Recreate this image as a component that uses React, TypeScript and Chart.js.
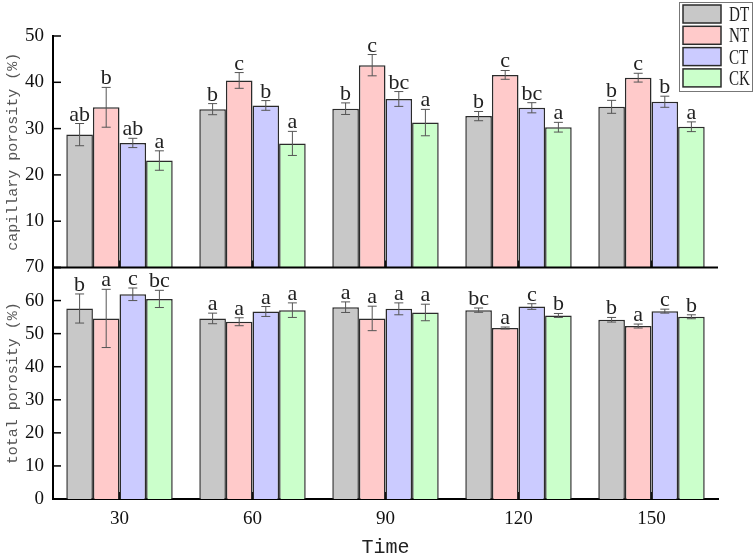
import React, { useEffect, useRef } from 'react';
import { Chart, registerables } from 'chart.js';

Chart.register(...registerables);

// ---- data ----
const categories = ['30', '60', '90', '120', '150'];
const seriesNames = ['DT', 'NT', 'CT', 'CK'];
const seriesColors = ['#c8c8c8', '#ffcaca', '#cbcbff', '#cbffcb'];

// capillary porosity (%)
const capDT = [28.7, 34.2, 34.3, 32.7, 34.7];
const capDTErr = [2.4, 1.2, 1.25, 1.0, 1.4];
const capDTSig = ['ab', 'b', 'b', 'b', 'b'];
const capNT = [34.6, 40.4, 43.7, 41.6, 41.0];
const capNTErr = [4.3, 1.7, 2.3, 0.95, 0.95];
const capNTSig = ['b', 'c', 'c', 'c', 'c'];
const capCT = [26.9, 35.0, 36.4, 34.5, 35.8];
const capCTErr = [1.0, 1.05, 1.6, 1.1, 1.2];
const capCTSig = ['ab', 'b', 'bc', 'bc', 'b'];
const capCK = [23.1, 26.8, 31.3, 30.3, 30.4];
const capCKErr = [2.1, 2.6, 2.85, 1.05, 1.05];
const capCKSig = ['a', 'a', 'a', 'a', 'a'];

// total porosity (%)
const totDT = [57.6, 54.6, 58.0, 57.1, 54.2];
const totDTErr = [4.4, 1.6, 1.6, 0.65, 0.7];
const totDTSig = ['b', 'a', 'a', 'bc', 'b'];
const totNT = [54.6, 53.6, 54.6, 51.7, 52.3];
const totNTErr = [8.8, 1.2, 3.7, 0.3, 0.6];
const totNTSig = ['a', 'a', 'a', 'a', 'a'];
const totCT = [61.9, 56.7, 57.5, 58.2, 56.8];
const totCTErr = [1.9, 1.5, 1.8, 0.85, 0.6];
const totCTSig = ['c', 'a', 'a', 'c', 'c'];
const totCK = [60.5, 57.1, 56.4, 55.5, 55.1];
const totCKErr = [2.6, 2.2, 2.5, 0.6, 0.6];
const totCKSig = ['bc', 'a', 'a', 'b', 'b'];

const capTicksMax = 50;
const totTicksMax = 70;
const tickStep = 10;

const SERIF = '"Liberation Serif", "DejaVu Serif", serif';
const MONO = '"Liberation Mono", "DejaVu Sans Mono", monospace';

function makeDs(idx: number, axis: string, data: number[], errors: number[], sig: string[]) {
  return {
    label: seriesNames[idx],
    data,
    errors,
    sig,
    yAxisID: axis,
    stack: seriesNames[idx],
    backgroundColor: seriesColors[idx],
    borderColor: '#2b2b2b',
    borderWidth: 1.5,
    barPercentage: 1.0,
    categoryPercentage: 0.8,
  } as any;
}

const overlayPlugin = {
  id: 'overlay',
  beforeDatasetsDraw(chart: any) {
    const c = chart.ctx;
    const xs = chart.scales.x;
    const yCap = chart.scales.yCap;
    c.save();
    c.strokeStyle = '#000';
    c.lineWidth = 1.5;
    xs.ticks.forEach((_t: any, i: number) => {
      const x = xs.getPixelForTick(i);
      [yCap.bottom, chart.chartArea.bottom].forEach((yb: number) => {
        c.beginPath();
        c.moveTo(x, yb);
        c.lineTo(x, yb - 7);
        c.stroke();
      });
    });
    c.restore();
  },
  afterDatasetsDraw(chart: any) {
    const c = chart.ctx;
    const area = chart.chartArea;
    c.save();
    // error bars and significance letters
    chart.data.datasets.forEach((ds: any, di: number) => {
      const meta = chart.getDatasetMeta(di);
      const ys = chart.scales[ds.yAxisID];
      meta.data.forEach((el: any, i: number) => {
        const v = ds.data[i];
        const e = ds.errors[i];
        const yt = ys.getPixelForValue(v + e);
        const yb = ys.getPixelForValue(v - e);
        const x = el.x;
        c.strokeStyle = '#555';
        c.lineWidth = 1;
        c.beginPath();
        c.moveTo(x, yt);
        c.lineTo(x, yb);
        c.moveTo(x - 4.5, yt);
        c.lineTo(x + 4.5, yt);
        c.moveTo(x - 4.5, yb);
        c.lineTo(x + 4.5, yb);
        c.stroke();
        c.fillStyle = '#222';
        c.font = `22px ${SERIF}`;
        c.textAlign = 'center';
        c.textBaseline = 'alphabetic';
        c.fillText(ds.sig[i], x, yt - 3);
      });
    });
    // separating axis line between panels
    const yCap = chart.scales.yCap;
    c.strokeStyle = '#000';
    c.lineWidth = 2;
    c.beginPath();
    c.moveTo(area.left, yCap.bottom);
    c.lineTo(area.right, yCap.bottom);
    c.stroke();
    // inward y tick marks
    ['yCap', 'yTot'].forEach((id) => {
      const s = chart.scales[id];
      s.ticks.forEach((t: any) => {
        const y = s.getPixelForValue(t.value);
        c.beginPath();
        c.lineWidth = 1.5;
        c.moveTo(area.left, y);
        c.lineTo(area.left + 8, y);
        c.stroke();
      });
    });
    c.restore();
  },
  afterDraw(chart: any) {
    const c = chart.ctx;
    c.save();
    const bx = 679, by = 2, bw = 73, bh = 89;
    c.fillStyle = '#fff';
    c.fillRect(bx, by, bw, bh);
    c.strokeStyle = '#777';
    c.lineWidth = 1;
    c.strokeRect(bx + 0.5, by + 0.5, bw, bh);
    seriesNames.forEach((name, i) => {
      const ry = 5 + i * 21.3;
      c.fillStyle = seriesColors[i];
      c.fillRect(683, ry, 38, 18);
      c.strokeStyle = '#2b2b2b';
      c.lineWidth = 1.5;
      c.strokeRect(683, ry, 38, 18);
      c.save();
      c.translate(729, ry + 16);
      c.scale(0.72, 1);
      c.fillStyle = '#222';
      c.font = `21px ${SERIF}`;
      c.textAlign = 'left';
      c.textBaseline = 'alphabetic';
      c.fillText(name, 0, 0);
      c.restore();
    });
    c.restore();
  },
};

export default function App() {
  const ref = useRef<HTMLCanvasElement | null>(null);
  useEffect(() => {
    if (!ref.current) return;
    const tickFont = { family: SERIF, size: 19 };
    const chart = new Chart(ref.current, {
      type: 'bar',
      data: {
        labels: categories,
        datasets: [
          makeDs(0, 'yTot', totDT, totDTErr, totDTSig),
          makeDs(1, 'yTot', totNT, totNTErr, totNTSig),
          makeDs(2, 'yTot', totCT, totCTErr, totCTSig),
          makeDs(3, 'yTot', totCK, totCKErr, totCKSig),
          makeDs(0, 'yCap', capDT, capDTErr, capDTSig),
          makeDs(1, 'yCap', capNT, capNTErr, capNTSig),
          makeDs(2, 'yCap', capCT, capCTErr, capCTSig),
          makeDs(3, 'yCap', capCK, capCKErr, capCKSig),
        ],
      },
      options: {
        responsive: false,
        animation: false,
        devicePixelRatio: 1,
        layout: { padding: { top: 36, right: 36, left: 0, bottom: 0 } },
        plugins: { legend: { display: false }, tooltip: { enabled: false } },
        scales: {
          x: {
            type: 'category',
            offset: true,
            grid: { display: false, drawTicks: false },
            border: { display: true, color: '#000', width: 2 },
            ticks: { font: tickFont, color: '#111', padding: 9, maxRotation: 0 },
            title: {
              display: true,
              text: 'Time',
              font: { family: MONO, size: 20, lineHeight: 1 },
              color: '#222',
              padding: { top: 0, bottom: 0 },
            },
            afterFit: (s: any) => { s.height = 59; },
          },
          yTot: {
            type: 'linear',
            position: 'left',
            stack: 'panels',
            stackWeight: 1,
            stacked: false,
            min: 0,
            max: totTicksMax,
            grid: { display: false, drawTicks: false },
            border: { display: true, color: '#000', width: 2 },
            ticks: { stepSize: tickStep, autoSkip: false, font: tickFont, color: '#111', padding: 9 },
            title: {
              display: true,
              text: 'total porosity (%)',
              font: { family: MONO, size: 15 },
              color: '#555',
              padding: { top: 4, bottom: 0 },
            },
            afterFit: (s: any) => { s.width = 53; },
          },
          yCap: {
            type: 'linear',
            position: 'left',
            stack: 'panels',
            stackWeight: 1,
            stacked: false,
            min: 0,
            max: capTicksMax,
            grid: { display: false, drawTicks: false },
            border: { display: true, color: '#000', width: 2 },
            ticks: {
              stepSize: tickStep,
              autoSkip: false,
              font: tickFont,
              color: '#111',
              padding: 9,
              callback: (v: any) => (v === 0 ? '' : String(v)),
            },
            title: {
              display: true,
              text: 'capillary porosity (%)',
              font: { family: MONO, size: 15 },
              color: '#555',
              padding: { top: 4, bottom: 0 },
            },
            afterFit: (s: any) => { s.width = 53; },
          },
        },
      } as any,
      plugins: [overlayPlugin],
    });
    return () => chart.destroy();
  }, []);
  return (
    <div style={{ position: 'fixed', left: 0, top: 0, width: 754, height: 558, background: '#fff' }}>
      <canvas ref={ref} width={754} height={558} style={{ width: 754, height: 558, display: 'block' }} />
    </div>
  );
}
